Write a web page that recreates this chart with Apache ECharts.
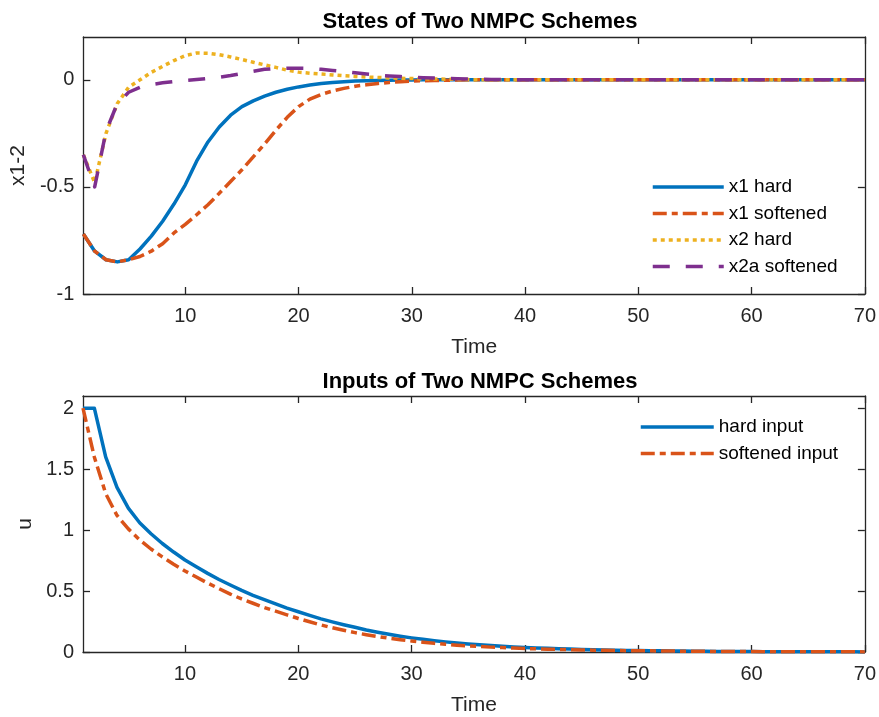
<!DOCTYPE html>
<html>
<head>
<meta charset="utf-8">
<script src="https://cdn.jsdelivr.net/npm/echarts@6/dist/echarts.min.js"></script>
<style>html,body{margin:0;padding:0;background:#fff}#c{width:879px;height:717px}</style>
</head>
<body>
<div id="c"></div>
<script>
var time = [1,2,3,4,5,6,7,8,9,10,11,12,13,14,15,16,17,18,19,20,21,22,23,24,25,26,27,28,29,30,31,32,33,34,35,36,37,38,39,40,41,42,43,44,45,46,47,48,49,50,51,52,53,54,55,56,57,58,59,60,61,62,63,64,65,66,67,68,69,70];
var x1Hard = [-0.72,-0.80,-0.84,-0.85,-0.84,-0.79,-0.73,-0.66,-0.58,-0.49,-0.38,-0.29,-0.22,-0.165,-0.125,-0.098,-0.076,-0.058,-0.044,-0.033,-0.024,-0.017,-0.012,-0.009,-0.006,-0.004,-0.003,-0.002,-0.001,-0.0005,0,0,0,0,0,0,0,0,0,0,0,0,0,0,0,0,0,0,0,0,0,0,0,0,0,0,0,0,0,0,0,0,0,0,0,0,0,0,0,0];
var x1Soft = [-0.72,-0.80,-0.84,-0.85,-0.84,-0.825,-0.80,-0.765,-0.715,-0.675,-0.63,-0.583,-0.53,-0.475,-0.42,-0.36,-0.30,-0.235,-0.175,-0.125,-0.09,-0.068,-0.052,-0.04,-0.03,-0.023,-0.017,-0.012,-0.009,-0.006,-0.004,-0.003,-0.002,-0.001,0,0,0,0,0,0,0,0,0,0,0,0,0,0,0,0,0,0,0,0,0,0,0,0,0,0,0,0,0,0,0,0,0,0,0,0];
var x2Hard = [-0.35,-0.48,-0.25,-0.11,-0.035,0.0,0.035,0.063,0.09,0.113,0.125,0.124,0.117,0.107,0.095,0.082,0.07,0.058,0.045,0.036,0.031,0.027,0.023,0.019,0.016,0.013,0.011,0.009,0.007,0.006,0.005,0.004,0.003,0.002,0.001,0,0,0,0,0,0,0,0,0,0,0,0,0,0,0,0,0,0,0,0,0,0,0,0,0,0,0,0,0,0,0,0,0,0,0];
var x2aSoft = [-0.35,-0.50,-0.24,-0.11,-0.058,-0.035,-0.022,-0.014,-0.008,-0.003,0.001,0.006,0.012,0.02,0.03,0.04,0.049,0.053,0.054,0.054,0.053,0.049,0.044,0.039,0.033,0.027,0.022,0.018,0.015,0.012,0.01,0.008,0.007,0.005,0.004,0.003,0.002,0.001,0,0,0,0,0,0,0,0,0,0,0,0,0,0,0,0,0,0,0,0,0,0,0,0,0,0,0,0,0,0,0,0];
var hardInput = [2.0,2.0,1.6,1.35,1.18,1.06,0.97,0.89,0.82,0.755,0.70,0.645,0.595,0.55,0.505,0.465,0.43,0.395,0.36,0.33,0.30,0.272,0.247,0.224,0.203,0.18,0.162,0.145,0.13,0.116,0.104,0.093,0.083,0.074,0.066,0.059,0.053,0.047,0.042,0.037,0.033,0.03,0.027,0.024,0.021,0.019,0.017,0.015,0.013,0.012,0.011,0.0095,0.0085,0.0075,0.0065,0.0057,0.005,0.0044,0.0038,0.0033,0.003,0.0026,0.0023,0.002,0.0018,0.0016,0.0014,0.0012,0.0011,0.001];
var softInput = [2.0,1.6,1.3,1.12,1.01,0.92,0.845,0.78,0.72,0.665,0.615,0.565,0.52,0.475,0.435,0.40,0.365,0.335,0.305,0.275,0.248,0.222,0.199,0.178,0.159,0.142,0.127,0.113,0.101,0.09,0.08,0.071,0.063,0.056,0.05,0.045,0.04,0.036,0.032,0.029,0.026,0.023,0.021,0.019,0.017,0.015,0.0135,0.012,0.011,0.01,0.0095,0.0085,0.0075,0.0067,0.006,0.0053,0.0047,0.0042,0.0037,0.0033,0.0029,0.0026,0.0023,0.002,0.0018,0.0016,0.0014,0.0012,0.0011,0.001];
var xTicks = [10,20,30,40,50,60,70];
var yTicksTop = [-1,-0.5,0];
var yTicksBottom = [0,0.5,1,1.5,2];
var topNames = ['x1 hard','x1 softened','x2 hard','x2a softened'];
var bottomNames = ['hard input','softened input'];
var titles = ['States of Two NMPC Schemes','Inputs of Two NMPC Schemes'];

function pairs(ys){ return time.map(function(t,i){ return [t, ys[i]]; }); }

var FONT = '"Liberation Sans", Arial, Helvetica, sans-serif';
var AX = '#262626';
var C = {blue:'#0072BD', red:'#D95319', yellow:'#EDB120', purple:'#7E2F8E'};

function xAx(grid, pos, show, ticks){
  return {
    type:'value', gridIndex:grid, position:pos, min:1, max:70,
    name: show ? 'Time' : '', nameLocation:'middle', nameGap:43,
    nameTextStyle:{fontFamily:FONT, fontSize:21, color:AX},
    axisLine:{show:true, onZero:false, lineStyle:{color:AX, width:1.3}},
    axisTick:{show:true, inside:true, length:7, customValues:ticks, lineStyle:{color:AX, width:1.3}},
    axisLabel:{show:show, customValues:ticks, margin:12, fontFamily:FONT, fontSize:20, color:AX},
    splitLine:{show:false}
  };
}
function yAx(grid, pos, show, min, max, ticks, name){
  return {
    type:'value', gridIndex:grid, position:pos, min:min, max:max,
    name: show ? name : '', nameLocation:'middle', nameGap:47,
    nameTextStyle:{fontFamily:FONT, fontSize:21, color:AX},
    axisLine:{show:true, onZero:false, lineStyle:{color:AX, width:1.3}},
    axisTick:{show:true, inside:true, length:7, customValues:ticks, lineStyle:{color:AX, width:1.3}},
    axisLabel:{show:show, customValues:ticks, margin:9, fontFamily:FONT, fontSize:20, color:AX},
    splitLine:{show:false}
  };
}
function ser(name, xi, yi, ys, color, type){
  return {
    name:name, type:'line', xAxisIndex:xi, yAxisIndex:yi, data:pairs(ys),
    symbol:'none', showSymbol:false, clip:true, z:2,
    lineStyle:{color:color, width:3.5, type:type, cap:'butt', join:'round'},
    itemStyle:{color:color}
  };
}

var chart = echarts.init(document.getElementById('c'), null, {renderer:'canvas'});
chart.setOption({
  animation:false,
  backgroundColor:'#fff',
  title:[
    {text:titles[0], left:475, top:6, textAlign:'center', textStyle:{fontFamily:FONT, fontSize:22, fontWeight:'bold', color:'#000'}},
    {text:titles[1], left:475, top:366, textAlign:'center', textStyle:{fontFamily:FONT, fontSize:22, fontWeight:'bold', color:'#000'}}
  ],
  grid:[
    {left:83, right:12, top:37, height:257},
    {left:83, right:12, top:396, height:256}
  ],
  legend:[
    {data:topNames, orient:'vertical', left:646, top:172, itemWidth:71, itemHeight:14, itemGap:6.5,
     itemStyle:{opacity:0}, lineStyle:{width:3.5}, textStyle:{fontFamily:FONT, fontSize:19, color:'#000', lineHeight:20}},
    {data:bottomNames, orient:'vertical', left:634, top:412, itemWidth:73, itemHeight:14, itemGap:6.5,
     itemStyle:{opacity:0}, lineStyle:{width:3.5}, textStyle:{fontFamily:FONT, fontSize:19, color:'#000', lineHeight:20}}
  ],
  xAxis:[
    xAx(0,'bottom',true,xTicks), xAx(0,'top',false,xTicks),
    xAx(1,'bottom',true,xTicks), xAx(1,'top',false,xTicks)
  ],
  yAxis:[
    yAx(0,'left',true,-1,0.2,yTicksTop,'x1-2'), yAx(0,'right',false,-1,0.2,yTicksTop,''),
    yAx(1,'left',true,0,2.1,yTicksBottom,'u'), yAx(1,'right',false,0,2.1,yTicksBottom,'')
  ],
  series:[
    ser(topNames[0],0,0,x1Hard,C.blue,'solid'),
    ser(topNames[1],0,0,x1Soft,C.red,[14,5,6,5]),
    ser(topNames[2],0,0,x2Hard,C.yellow,[4,4]),
    ser(topNames[3],0,0,x2aSoft,C.purple,[17,16]),
    ser(bottomNames[0],2,2,hardInput,C.blue,'solid'),
    ser(bottomNames[1],2,2,softInput,C.red,[14,5,6,5])
  ]
});
</script>
</body>
</html>
